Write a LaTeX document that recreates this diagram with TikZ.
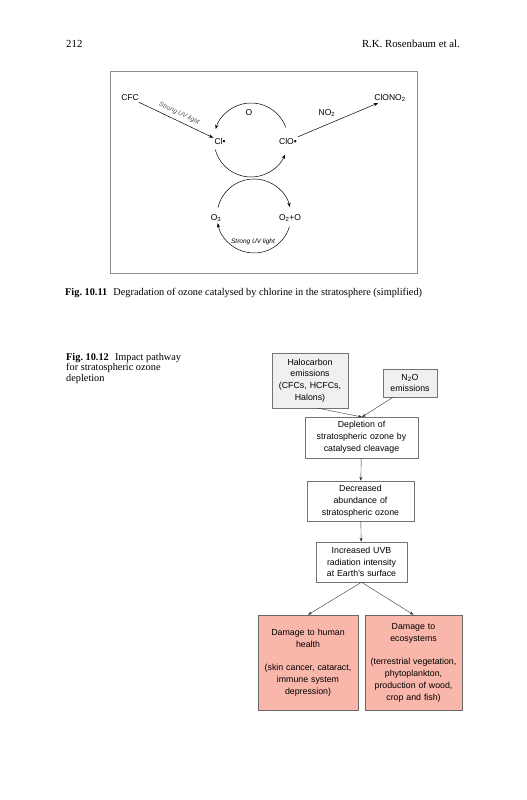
\documentclass[tikz,border=0pt]{standalone}
\usepackage{fontspec}
\setmainfont{Liberation Serif}
\setsansfont{Liberation Sans}
\usetikzlibrary{arrows.meta}
\definecolor{salmon}{RGB}{249,182,170}
\begin{document}
\begin{tikzpicture}[x=1pt,y=1pt,
  lbl/.style={font=\sffamily\fontsize{8.5}{10}\selectfont, inner sep=1pt},
  uvl/.style={font=\sffamily\itshape\fontsize{6.5}{8}\selectfont, inner sep=1pt},
  arr/.style={-{Stealth[length=4.5pt,width=3.2pt]}, line width=0.5pt},
  fbox/.style={draw=black!55, line width=0.5pt, align=center,
     font=\sffamily\fontsize{8.8}{11.8}\selectfont, inner sep=1pt, minimum height=#1},
  farr/.style={-{Stealth[length=4pt,width=3pt]}, line width=0.4pt, draw=black!80},
  captxt/.style={font=\fontsize{10.3}{10.5}\selectfont, inner sep=0pt}]
\useasboundingbox (0,0) rectangle (527,800);
% header
\node[captxt, anchor=base west] (pg) at (66,752) {\fontsize{10.8}{12}\selectfont 212};
\node[captxt, anchor=base east] (au) at (460,752) {\fontsize{10.8}{12}\selectfont R.K. Rosenbaum et al.};
% Figure 10.11
\draw[black!45, line width=0.6pt] (110,527) rectangle (417,729);
\node[lbl] (cfc) at (130,702) {CFC};
\node[lbl] (clono) at (390,702) {ClONO\textsubscript{2}};
\node[lbl] (o) at (249,687) {O};
\node[lbl] (no2) at (327,687) {NO\textsubscript{2}};
\node[lbl] (cl) at (220,659) {Cl•};
\node[lbl] (clo) at (288,659) {ClO•};
\node[lbl] (o3) at (216,582) {O\textsubscript{3}};
\node[lbl] (o2o) at (290,582) {O\textsubscript{2}+O};
\node[uvl] (uvb) at (253,558) {Strong UV light};
\coordinate (c1) at (251,660);
\coordinate (c2) at (254,584);
\draw[arr] (cfc) -- node[uvl, sloped, above, pos=0.5, yshift=3pt, text=black!70] (uvt) {Strong UV light} (cl);
\draw[arr] (clo) -- (clono);
\draw[arr] (c1) ++(20:37) arc[start angle=20, end angle=163, radius=37];
\draw[arr] (c1) ++(195:37) arc[start angle=195, end angle=337, radius=37];
\draw[arr] (c2) ++(167:37) arc[start angle=167, end angle=14, radius=37];
\draw[arr] (c2) ++(-17:37) arc[start angle=-17, end angle=-169, radius=37];
\node[captxt, anchor=base west] (cap1) at (65,504) {\textbf{Fig.\ 10.11}\hspace{0.6em}Degradation of ozone catalysed by chlorine in the stratosphere (simplified)};
% Figure 10.12
\node[captxt, anchor=north west, align=left] (cap2) at (66,447) {\textbf{Fig.\ 10.12}\hspace{0.6em}Impact pathway\\for stratospheric ozone\\depletion};
\node[fbox=55pt, fill=black!6, text width=74pt] (halo) at (310,419.5) {Halocarbon\\emissions\\(CFCs, HCFCs,\\Halons)};
\node[fbox=28pt, fill=black!6, text width=52pt] (n2o) at (410,417) {N\textsubscript{2}O\\emissions};
\node[fbox=41pt, text width=111pt] (dep) at (361.5,362.5) {Depletion of\\stratospheric ozone by\\catalysed cleavage};
\node[fbox=40pt, text width=105pt] (dec) at (360.5,299) {Decreased\\abundance of\\stratospheric ozone};
\node[fbox=40pt, text width=89pt] (inc) at (361.5,238) {Increased UVB\\radiation intensity\\at Earth's surface};
\node[fbox=95pt, fill=salmon, draw=black!60, text width=98pt] (hum) at (308,137.5) {Damage to human\\health\\[11.8pt](skin cancer, cataract,\\immune system\\depression)};
\node[fbox=95pt, fill=salmon, draw=black!60, text width=95pt] (eco) at (413.5,137.5) {Damage to\\ecosystems\\[11.8pt](terrestrial vegetation,\\phytoplankton,\\production of wood,\\crop and fish)};
\coordinate (m) at (362,383);
\draw[farr] (halo.south) ++(8,0) -- (m);
\draw[farr] (n2o.south) ++(-17,0) -- (m);
\draw[farr] (dep) -- (dec);
\draw[farr] (dec) -- (inc);
\draw[farr] (inc.south) -- (hum.north);
\draw[farr] (inc.south) -- (eco.north);
\end{tikzpicture}
\end{document}
